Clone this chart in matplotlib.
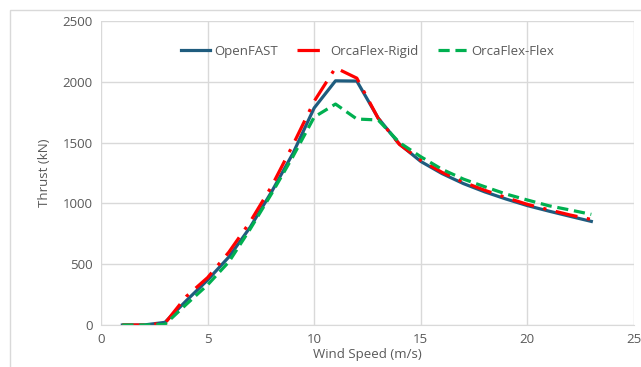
import matplotlib.pyplot as plt
from matplotlib.patches import Rectangle

# wind speed (m/s)
wind = [1, 2, 3, 4, 5, 6, 7, 8, 9, 10, 11, 12, 13, 14, 15, 16, 17, 18, 19, 20, 21, 22, 23]

# thrust (kN)
openfast = [0, 0, 22, 200, 370, 560, 805, 1095, 1410, 1785, 2008, 2006, 1702, 1488, 1345,
            1245, 1163, 1095, 1036, 982, 937, 894, 852]
orca_rigid = [0, 0, 15, 235, 390, 600, 850, 1140, 1480, 1840, 2115, 2030, 1700, 1485, 1355,
              1255, 1175, 1108, 1048, 992, 948, 905, 868]
orca_flex = [0, 0, 5, 170, 330, 520, 790, 1080, 1385, 1710, 1817, 1694, 1686, 1500, 1384,
             1280, 1200, 1137, 1077, 1028, 981, 946, 910]

plt.rcParams['font.family'] = ['Open Sans', 'DejaVu Sans']
grey = '#595959'

fig = plt.figure(figsize=(6.41, 3.67), dpi=100)
ax = fig.add_axes([0.1576, 0.1144, 0.8314, 0.8284])

ax.plot(wind, openfast, color='#1F5C7E', lw=2.3, label='OpenFAST')
ax.plot(wind, orca_rigid, color='#FF0000', lw=2.3, dashes=(7, 3, 1, 3), label='OrcaFlex-Rigid')
ax.plot(wind, orca_flex, color='#00B050', lw=2.3, dashes=(3.5, 1.8), label='OrcaFlex-Flex')

ax.set_xlim(0, 25)
ax.set_ylim(0, 2500)
ax.set_xticks([0, 5, 10, 15, 20, 25])
ax.set_yticks([0, 500, 1000, 1500, 2000, 2500])
ax.grid(True, color='#D9D9D9', lw=1)
ax.set_axisbelow(True)
for s in ['top', 'right', 'left']:
    ax.spines[s].set_visible(False)
ax.spines['bottom'].set_color('#D9D9D9')
ax.tick_params(length=0, labelsize=9.5, labelcolor=grey, pad=6)

ax.set_xlabel('Wind Speed (m/s)', fontsize=9.5, color=grey, labelpad=1)
ax.set_ylabel('Thrust (kN)', fontsize=9.5, color=grey, labelpad=8)

ax.legend(loc='upper center', bbox_to_anchor=(0.5, 0.96), ncol=3, frameon=False,
          fontsize=9.5, labelcolor=grey, handlelength=2.2, columnspacing=1.5, handletextpad=0.3)

fig.patches.append(Rectangle((10 / 641, -0.1), 1.1, 1.1 - 10 / 367 + 0.1 - 0.1,
                             transform=fig.transFigure, fill=False, edgecolor='#D9D9D9', lw=1))

fig.savefig('out.png', dpi=100)
